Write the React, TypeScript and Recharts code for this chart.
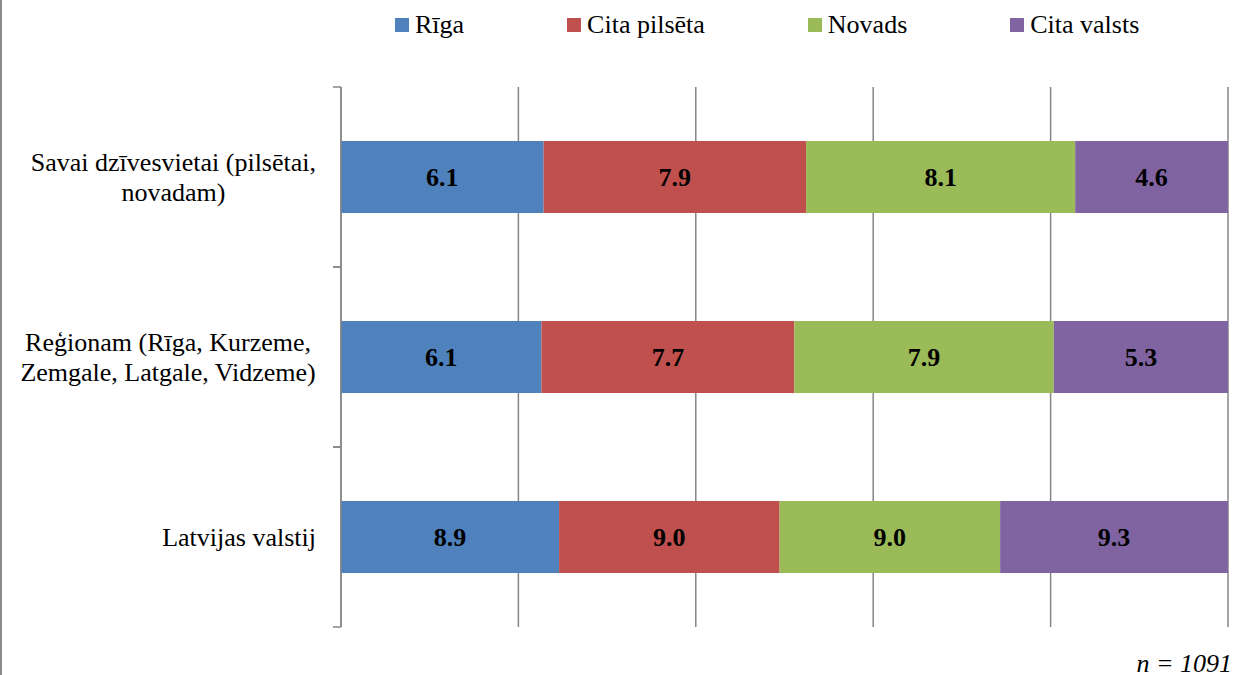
import React from 'react';
import { BarChart, Bar, XAxis, YAxis, CartesianGrid, LabelList, Legend } from 'recharts';

const categories = [
  'Savai dzīvesvietai (pilsētai, novadam)',
  'Reģionam (Rīga, Kurzeme, Zemgale, Latgale, Vidzeme)',
  'Latvijas valstij',
];
const tickLabels = [
  ['Savai dzīvesvietai (pilsētai,', 'novadam)'],
  ['Reģionam (Rīga, Kurzeme,', 'Zemgale, Latgale, Vidzeme)'],
  ['Latvijas valstij'],
];
const seriesNames = ['Rīga', 'Cita pilsēta', 'Novads', 'Cita valsts'];
const riga = [6.1, 6.1, 8.9];
const citaPilseta = [7.9, 7.7, 9.0];
const novads = [8.1, 7.9, 9.0];
const citaValsts = [4.6, 5.3, 9.3];
const xTicks = [0, 0.2, 0.4, 0.6, 0.8, 1];

const COLORS = ['#4F81BD', '#C0504D', '#9BBB59', '#8064A2'];
const KEYS = ['riga', 'citaPilseta', 'novads', 'citaValsts'];
const AXIS = '#868686';
const FONT = "'Liberation Serif', 'Times New Roman', Tinos, 'DejaVu Serif', serif";

const data = categories.map((name, i) => ({
  name,
  riga: riga[i],
  citaPilseta: citaPilseta[i],
  novads: novads[i],
  citaValsts: citaValsts[i],
}));

const ctx = typeof document !== 'undefined' ? document.createElement('canvas').getContext('2d') : null;
function textWidth(s: string) {
  if (!ctx) return s.length * 12;
  ctx.font = `26px ${FONT}`;
  return ctx.measureText(s).width;
}

function CategoryTick(props: any) {
  const { x, y, payload } = props;
  const idx = categories.indexOf(payload.value);
  const lines = idx >= 0 ? tickLabels[idx] : [String(payload.value)];
  const half = payload.offset ?? 0;
  const maxW = Math.max(...lines.map(textWidth));
  const cx = x - 25 - maxW / 2;
  return (
    <g>
      <line x1={x - 8} x2={x} y1={y - half} y2={y - half} stroke={AXIS} strokeWidth={1.5} />
      <line x1={x - 8} x2={x} y1={y + half} y2={y + half} stroke={AXIS} strokeWidth={1.5} />
      <text textAnchor="middle" style={{ fontFamily: FONT }} fontSize={26} fill="#000">
        {lines.map((l, i) => (
          <tspan key={i} x={cx} y={y + (i - (lines.length - 1) / 2) * 30 + 9}>
            {l}
          </tspan>
        ))}
      </text>
    </g>
  );
}

function TopLegend() {
  return (
    <div
      style={{
        display: 'flex',
        alignItems: 'center',
        height: 50,
        paddingLeft: 395,
        fontFamily: FONT,
        fontSize: 26,
        color: '#000',
        whiteSpace: 'nowrap',
      }}
    >
      {seriesNames.map((n, i) => (
        <div key={n} style={{ display: 'flex', alignItems: 'center', marginRight: 103, flexShrink: 0 }}>
          <span style={{ width: 14, height: 14, background: COLORS[i], marginRight: 6, display: 'inline-block' }} />
          <span>{n}</span>
        </div>
      ))}
    </div>
  );
}

export default function App() {
  return (
    <div style={{ position: 'absolute', left: 0, top: 0, width: 1236, height: 675, background: '#fff', overflow: 'hidden' }}>
      <div style={{ position: 'absolute', left: 0, top: 0, width: 2, height: 675, background: '#8a8a8a' }} />
      <BarChart
        width={1236}
        height={675}
        data={data}
        layout="vertical"
        stackOffset="expand"
        barCategoryGap="30%"
        margin={{ top: 37, right: 8, bottom: 48, left: 0 }}
      >
        <Legend
          verticalAlign="top"
          align="left"
          wrapperStyle={{ top: 0, left: 0, width: 1236, height: 50 }}
          content={() => <TopLegend />}
        />
        <CartesianGrid horizontal={false} stroke={AXIS} strokeWidth={1.5} />
        <XAxis type="number" hide height={0} domain={[0, 1]} ticks={xTicks} />
        <YAxis
          type="category"
          dataKey="name"
          width={341}
          axisLine={{ stroke: AXIS, strokeWidth: 1.5 }}
          tickLine={false}
          tickSize={0}
          tickMargin={0}
          tick={<CategoryTick />}
          interval={0}
        />
        {KEYS.map((k, i) => (
          <Bar key={k} dataKey={k} name={seriesNames[i]} stackId="a" fill={COLORS[i]} isAnimationActive={false}>
            <LabelList
              dataKey={k}
              position="center"
              formatter={(v: any) => Number(v).toFixed(1)}
              fill="#000"
              style={{ fontFamily: FONT }}
              fontSize={26}
              fontWeight="bold"
            />
          </Bar>
        ))}
      </BarChart>
      <div
        style={{
          position: 'absolute',
          right: 4,
          top: 649,
          fontFamily: FONT,
          fontSize: 26,
          fontStyle: 'italic',
          lineHeight: '30px',
          color: '#000',
        }}
      >
        n = 1091
      </div>
    </div>
  );
}
